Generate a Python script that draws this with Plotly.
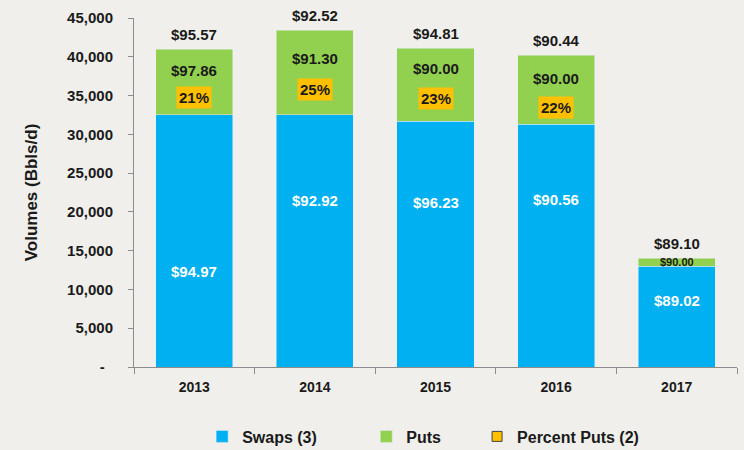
import plotly.graph_objects as go

ANOS = ["2013", "2014", "2015", "2016", "2017"]
SWAPS = [32500, 32500, 31700, 31300, 13000]
PUTS = [8500, 10900, 9400, 8900, 1000]
PRECO_SWAPS = ["$94.97", "$92.92", "$96.23", "$90.56", "$89.02"]
PRECO_PUTS = ["$97.86", "$91.30", "$90.00", "$90.00", "$90.00"]
PRECO_TOTAL = ["$95.57", "$92.52", "$94.81", "$90.44", "$89.10"]
PERCENT_PUTS = ["21%", "25%", "23%", "22%", None]

Y_TICKS = [0, 5000, 10000, 15000, 20000, 25000, 30000, 35000, 40000, 45000]
Y_TICKTEXT = ["-  "] + [f"{v:,}" for v in Y_TICKS[1:]]

# posicao relativa dos rotulos dentro de cada segmento
FRAC_SWAPS = [0.38, 0.66, 0.67, 0.69, 0.66]
FRAC_PUTS = [0.68, 0.67, 0.72, 0.67, 0.5]
FRAC_PCT = [0.27, 0.30, 0.31, 0.25, 0.0]

AZUL = "#00b0f0"
VERDE = "#92d050"
LARANJA = "#ffc000"
FONTE = "Arial, Liberation Sans, sans-serif"
NBSP = "\u00a0"

fig = go.Figure()
fig.add_trace(go.Bar(x=ANOS, y=SWAPS, name="<b>Swaps (3)</b>" + NBSP * 10,
                     marker_color=AZUL))
fig.add_trace(go.Bar(x=ANOS, y=PUTS, name="<b>Puts</b>" + NBSP * 7,
                     marker_color=VERDE))
fig.add_trace(
    go.Scatter(
        x=[None], y=[None], mode="markers", name="<b>Percent Puts (2)</b>",
        marker={"symbol": "square", "size": 10, "color": LARANJA,
                "line": {"color": "#444444", "width": 1}},
    )
)

anotacoes = []
for i in range(len(ANOS)):
    total = SWAPS[i] + PUTS[i]
    anotacoes.append(dict(
        x=i, y=SWAPS[i] * FRAC_SWAPS[i], text=PRECO_SWAPS[i], showarrow=False,
        font={"color": "white", "size": 15},
    ))
    anotacoes.append(dict(
        x=i, y=total, text=PRECO_TOTAL[i], showarrow=False, yanchor="bottom",
        yshift=4, font={"color": "#1a1a1a", "size": 15},
    ))
    pequeno = PUTS[i] < 3000
    anotacoes.append(dict(
        x=i, y=SWAPS[i] + PUTS[i] * FRAC_PUTS[i], text=PRECO_PUTS[i],
        showarrow=False, font={"color": "#1a1a1a", "size": 11 if pequeno else 15},
    ))
    if PERCENT_PUTS[i]:
        anotacoes.append(dict(
            x=i, y=SWAPS[i] + PUTS[i] * FRAC_PCT[i], text=PERCENT_PUTS[i],
            showarrow=False, bgcolor=LARANJA, borderpad=2,
            font={"color": "#1a1a1a", "size": 15},
        ))
for a in anotacoes:
    a["font"]["family"] = FONTE
    a["text"] = f"<b>{a['text']}</b>"

fig.update_layout(
    width=744,
    height=450,
    barmode="stack",
    bargap=0.36,
    paper_bgcolor="#f0efeb",
    plot_bgcolor="#f0efeb",
    margin={"l": 134, "r": 7, "t": 18, "b": 83},
    font={"family": FONTE, "size": 14, "color": "#1a1a1a"},
    annotations=anotacoes,
    legend={
        "orientation": "h", "x": 0.113, "xanchor": "left",
        "yref": "container", "y": 0.03, "yanchor": "middle",
        "font": {"size": 16}, "traceorder": "normal",
        "bgcolor": "rgba(0,0,0,0)",
    },
    showlegend=True,
)
fig.update_xaxes(
    type="category", range=[-0.5, 4.5], showline=True, linecolor="#8c8c8c",
    ticks="outside", tickson="boundaries", ticklen=6, tickcolor="#8c8c8c",
    tickfont={"size": 14}, tickprefix="<b>", ticksuffix="</b>",
    ticklabelstandoff=7, automargin=False,
)
fig.update_yaxes(
    range=[0, 45000], tickvals=Y_TICKS, ticktext=[f"<b>{t}</b>" for t in Y_TICKTEXT],
    showline=True, linecolor="#8c8c8c", ticks="outside", ticklen=5,
    tickcolor="#8c8c8c", showgrid=False, zeroline=False, tickfont={"size": 15},
    ticklabelstandoff=12, automargin=False,
    title={"text": "<b>Volumes (Bbls/d)</b>", "font": {"size": 17}, "standoff": 25},
)

# remove a margem padrao do body para a figura ocupar a janela inteira
fig.write_html(
    "out.html",
    config={"displayModeBar": False},
    post_script="document.body.style.margin = '0';",
)
